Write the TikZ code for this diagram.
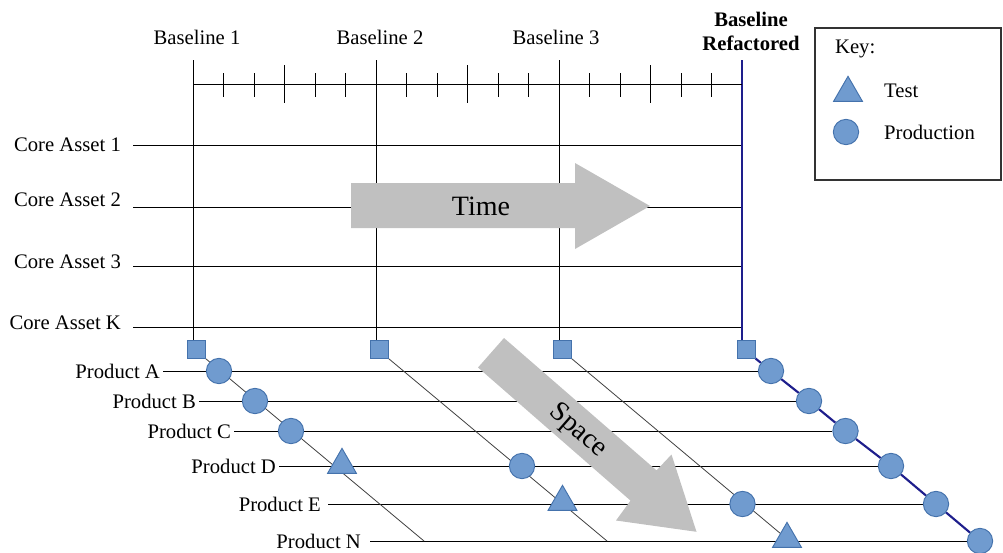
\documentclass[tikz,border=0pt]{standalone}
\usepackage{fontspec}
\setmainfont{Liberation Serif}
\usepackage{tikz}
\usetikzlibrary{shapes.geometric,backgrounds}
\definecolor{markfill}{RGB}{112,155,207}
\definecolor{markdraw}{RGB}{68,114,172}
\definecolor{arrowgray}{RGB}{192,192,192}
\definecolor{refblue}{RGB}{30,30,140}

\begin{document}
\begin{tikzpicture}[x=0.75pt,y=-0.75pt,line width=0.7pt,
    every node/.style={font=\fontsize{15.5}{18}\selectfont,inner sep=2pt},
    sq/.style={draw=markdraw,fill=markfill,minimum size=13.5pt,inner sep=0pt},
    prod/.style={circle,draw=markdraw,fill=markfill,minimum size=19pt,inner sep=0pt},
    test/.style={regular polygon,regular polygon sides=3,draw=markdraw,fill=markfill,minimum size=25pt,inner sep=0pt},
    diag/.style={black!75,line width=0.6pt},
    bigtext/.style={font=\fontsize{21}{24}\selectfont}]
    \useasboundingbox (0,0) rectangle (1003,553);

    % baselines on top
    \node (b1) at (197,37) {Baseline 1};
    \node (b2) at (380,37) {Baseline 2};
    \node (b3) at (556,37) {Baseline 3};
    \node[font=\fontsize{15.5}{18}\selectfont\bfseries,align=center] (b4) at (751,31) {Baseline\\Refactored};
    \coordinate (t1) at (193,60);
    \coordinate (t2) at (376,60);
    \coordinate (t3) at (559,60);
    \coordinate (t4) at (742,60);
    \coordinate (h1) at (193,84);
    \coordinate (h4) at (742,84);
    \draw (h1) -- (h4);
    \foreach \x in {223.5,254,315,345.5,406.5,437,498,528.5,589.5,620,681,711.5}
        \draw (\x,73) -- (\x,97);
    \foreach \x in {284.5,467.5,650.5}
        \draw (\x,65) -- (\x,103);

    % core assets
    \node[anchor=east] (ca1) at (124,145) {Core Asset 1};
    \node[anchor=east] (ca2) at (124,200) {Core Asset 2};
    \node[anchor=east] (ca3) at (124,262) {Core Asset 3};
    \node[anchor=east] (caK) at (124,323) {Core Asset K};
    \coordinate (cl1) at (133,145);
    \coordinate (cl2) at (133,207);
    \coordinate (cl3) at (133,266);
    \coordinate (clK) at (133,327);

    % products
    \node[anchor=east] (lA) at (163,371) {Product A};
    \node[anchor=east] (lB) at (199,401) {Product B};
    \node[anchor=east] (lC) at (234,431) {Product C};
    \node[anchor=east] (lD) at (279,466) {Product D};
    \node[anchor=east] (lE) at (324,504) {Product E};
    \node[anchor=east] (lN) at (364,541) {Product N};
    \coordinate (n1) at (424,541);
    \coordinate (n2) at (607,541);

    % time and space arrows
    \fill[arrowgray] (351,183) -- (575,183) -- (575,163) -- (650,206) -- (575,249) -- (575,228) -- (351,228) -- cycle;
    \node[bigtext] (time) at (481,206) {Time};
    \fill[arrowgray] (478,367.5) -- (630.5,500.6) -- (616,520.5) -- (696.5,531.8) -- (671.5,454.5) -- (656.5,470.4) -- (504,338) -- cycle;
    \node[bigtext,rotate=-41.1] (space) at (578,431) {Space};

    % markers
    \node[sq] (s1) at (196,349) {};
    \node[sq] (s2) at (379,349) {};
    \node[sq] (s3) at (562,349) {};
    \node[sq] (s4) at (746,349) {};
    \node[prod] (ma1) at (219,371) {};
    \node[prod] (mb1) at (255,401) {};
    \node[prod] (mc1) at (291,431) {};
    \node[test] (md1) at (342,465) {};
    \node[prod] (md2) at (522,466) {};
    \node[test] (me2) at (562.5,502) {};
    \node[prod] (me3) at (742.5,504) {};
    \node[test] (mn3) at (787,539) {};
    \node[prod] (ma4) at (771,371) {};
    \node[prod] (mb4) at (809,401) {};
    \node[prod] (mc4) at (845.5,431) {};
    \node[prod] (md4) at (891,466) {};
    \node[prod] (me4) at (936,504) {};
    \node[prod] (mn4) at (980,541) {};

    \begin{scope}[on background layer]
        \draw (t1) -- (t1 |- s1.north);
        \draw (t2) -- (t2 |- s2.north);
        \draw (t3) -- (t3 |- s3.north);
        \draw (cl1) -- (cl1 -| t4);
        \draw (cl2) -- (cl2 -| t4);
        \draw (cl3) -- (cl3 -| t4);
        \draw (clK) -- (clK -| t4);
        \draw (lA.east) -- (ma4);
        \draw (lB.east) -- (mb4);
        \draw (lC.east) -- (mc4);
        \draw (lD.east) -- (md4);
        \draw ([xshift=3pt]lE.east) -- (me4);
        \draw ([xshift=4.5pt]lN.east) -- (mn4);
        \draw[diag] (s1.south east) -- (n1);
        \draw[diag] (s2.south east) -- (n2);
        \draw[diag] (s3.south east) -- (mn3.center);
        \draw[refblue,line width=1.6pt] (t4) -- (t4 |- s4.north);
        \draw[refblue,line width=1.6pt] (s4.south east) -- (ma4) -- (mb4) -- (mc4) -- (md4) -- (me4) -- (mn4);
    \end{scope}

    % key
    \draw[black!80,line width=0.9pt] (815,28) rectangle (1001,180);
    \node[anchor=west] (key) at (832,49) {Key:};
    \node[test] (kt) at (848,93) {};
    \node[prod] (kp) at (846,132) {};
    \node[anchor=west] (ktest) at (881,91) {Test};
    \node[anchor=west] (kprod) at (881,132) {Production};

\end{tikzpicture}
\end{document}
